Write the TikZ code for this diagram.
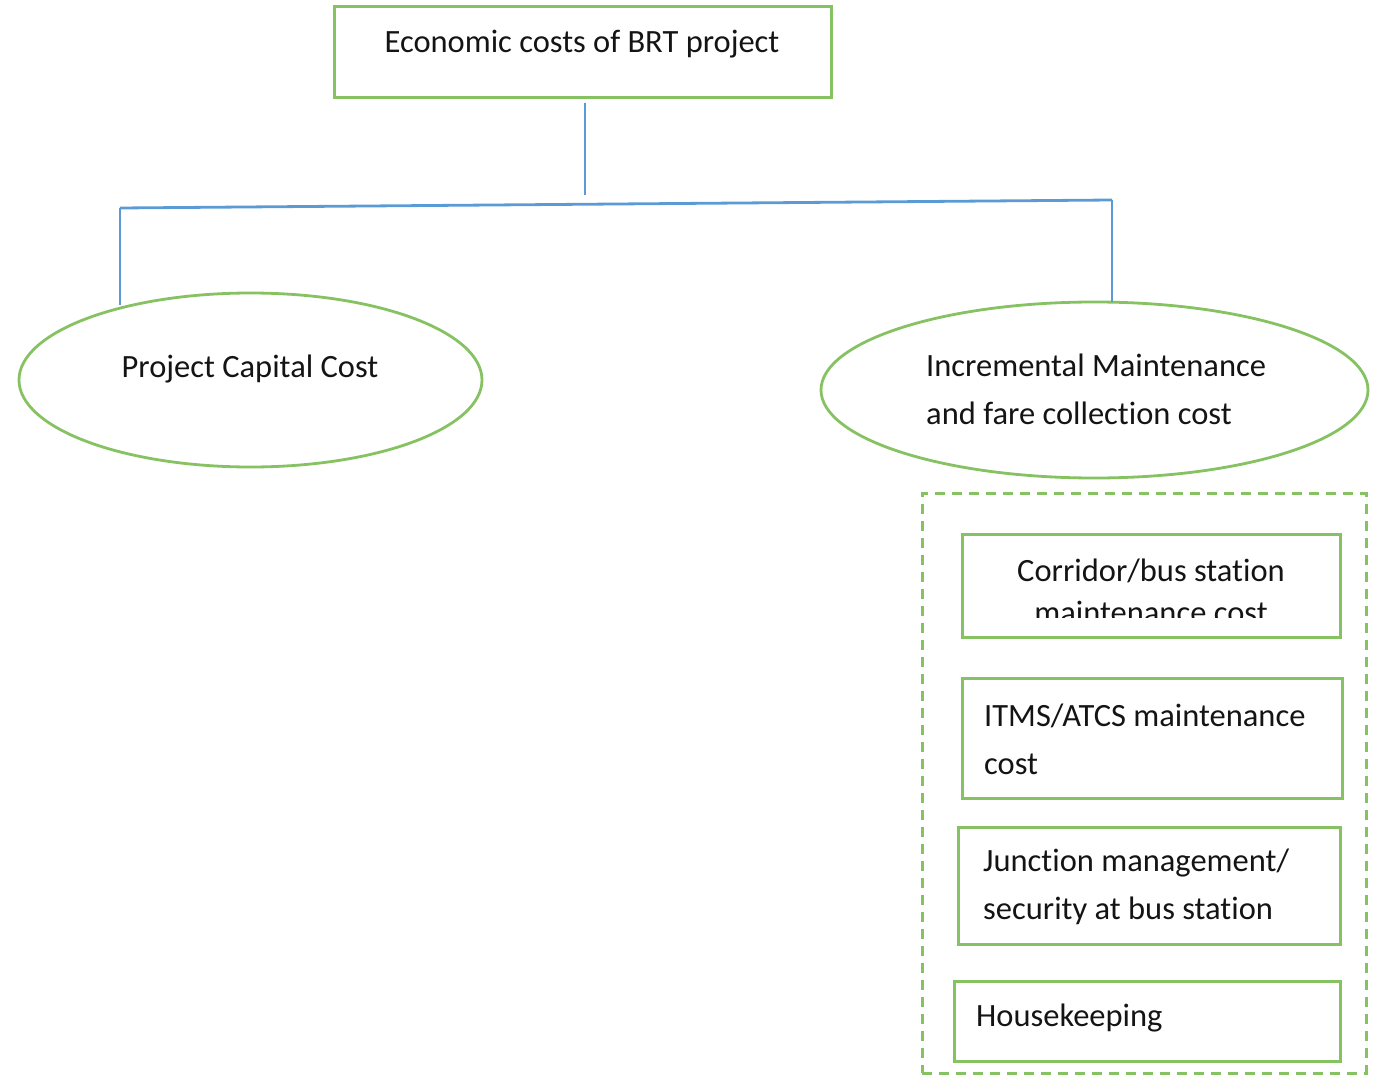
\documentclass[tikz,border=0pt]{standalone}
\usepackage{fontspec}
\setmainfont{Carlito}[Ligatures=NoCommon]
\usetikzlibrary{shapes.geometric}
\definecolor{boxgreen}{HTML}{86C162}
\definecolor{linkblue}{HTML}{5B9BD5}
\definecolor{txt}{HTML}{141414}
\tikzset{
  gbox/.style={draw=boxgreen, line width=3pt, rectangle, inner sep=0pt},
  gell/.style={draw=boxgreen, line width=2.8pt, ellipse, inner sep=0pt},
  link/.style={draw=linkblue, line width=2.8pt},
  lbl/.style={text=txt, inner sep=0pt, font=\fontsize{32.5}{48}\selectfont},
}
\begin{document}
\begin{tikzpicture}[x=1pt,y=-1pt]
\useasboundingbox (0,0) rectangle (1378,1075);
% top box
\node[gbox, minimum width=497pt, minimum height=91pt] (top) at (582.5,52.5) {};
\node[lbl] (toptxt) at (582,44) {Economic costs of BRT project};
% ellipses
\node[gell, minimum width=463pt, minimum height=174pt] (cap) at (250.5,380) {};
\node[lbl] (captxt) at (250,369) {Project Capital Cost};
\node[gell, minimum width=547pt, minimum height=176pt] (inc) at (1094.5,390) {};
\node[lbl, align=left, anchor=west] (inctxt) at (926,389) {Incremental Maintenance\\and fare collection cost};
% connectors
\coordinate (tstart) at (585,103);
\coordinate (tend) at (585,195);
\coordinate (hl) at (120,208);
\coordinate (hr) at (1112,200);
\coordinate (lend) at (120,305);
\coordinate (rend) at (1112,302);
\draw[link] (tstart) -- (tend);
\draw[link] (hl) -- (hr);
\draw[link] (hl) -- (lend);
\draw[link] (hr) -- (rend);
% dashed container
\node[draw=boxgreen, line width=3pt, dash pattern=on 10pt off 7pt, rectangle, inner sep=0pt, minimum width=444pt, minimum height=580pt] (group) at (1144,783) {};
% sub boxes
\node[gbox, minimum width=378pt, minimum height=103pt] (b1) at (1151,585.5) {};
\begin{scope}
\clip (962,540) rectangle (1340,617);
\node[lbl, align=center, font=\fontsize{32.5}{42}\selectfont] (b1txt) at (1151,591) {Corridor/bus station\\maintenance cost};
\end{scope}
\node[gbox, minimum width=380pt, minimum height=120pt] (b2) at (1152,738) {};
\node[lbl, align=left, anchor=west] (b2txt) at (984,739) {ITMS/ATCS maintenance\\cost};
\node[gbox, minimum width=382pt, minimum height=117pt] (b3) at (1149,885.5) {};
\node[lbl, align=left, anchor=west] (b3txt) at (983,887) {Junction management/\\security at bus station};
\node[gbox, minimum width=386pt, minimum height=80pt] (b4) at (1147,1021) {};
\node[lbl, anchor=west] (b4txt) at (976,1018) {Housekeeping};
\end{tikzpicture}
\end{document}
